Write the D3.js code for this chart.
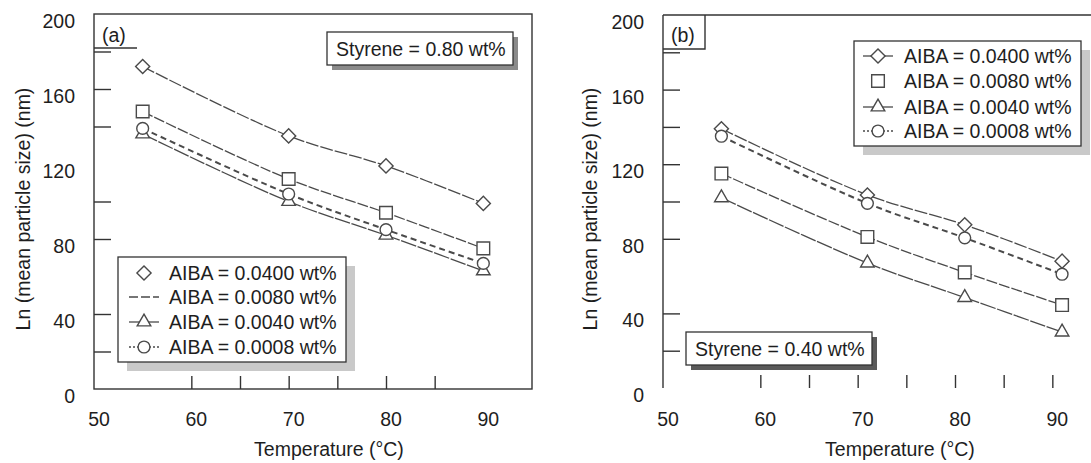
<!DOCTYPE html>
<html>
<head>
<meta charset="utf-8">
<script src="https://cdn.jsdelivr.net/npm/d3@7"></script>
<style>
  body { margin: 0; background: #fff; }
  text { font-family: "Liberation Sans", Arial, sans-serif; fill: #1e1e1e; }
</style>
</head>
<body>
<svg id="chart" width="1091" height="463"></svg>
<script>
// temperatures
const tempsA = [55, 70, 80, 90];
const tempsB = [56, 71, 81, 91];

// panel (a), styrene 0.80 wt%
const aiba0400A = [172, 135, 119, 99];
const aiba0080A = [148, 112, 94, 75];
const aiba0040A = [136, 100, 82, 63];
const aiba0008A = [139, 104, 85, 67];

// panel (b), styrene 0.40 wt%
const aiba0400B = [139, 103.5, 87.5, 68];
const aiba0080B = [115, 81, 62, 44.5];
const aiba0040B = [102, 67, 48.5, 30];
const aiba0008B = [135, 99, 80.5, 61];

const seriesNames = [
  "AIBA = 0.0400 wt%",
  "AIBA = 0.0080 wt%",
  "AIBA = 0.0040 wt%",
  "AIBA = 0.0008 wt%",
];
const xLabelValues = [50, 60, 70, 80, 90];
const xTickValuesA = [60, 65, 70, 75, 80, 85];
const xTickValuesB = [60, 65, 70, 75, 80, 85, 90];
const yLabelValues = [0, 40, 80, 120, 160, 200];
const yTickValuesA = [20, 40, 80, 100, 140, 160, 180];
const yTickValuesB = [20, 40, 80, 100, 120, 140, 160, 180];

(function drawFigure() {
  const svg = d3.select("#chart");
  const ink = "#333";
  const lineInk = "#4a4a4a";
  const fontSize = 19.5;

  const styles = [
    { marker: "diamond", dash: "13,2", width: 1.3 },
    { marker: "square", dash: "11,2", width: 1.3 },
    { marker: "triangle", dash: "16,1.5", width: 1.3 },
    { marker: "circle", dash: "6,4", width: 2 },
  ];

  function markerGen(kind) {
    if (kind === "diamond") return d3.symbol(d3.symbolSquare, 100)();
    if (kind === "square") return d3.symbol(d3.symbolSquare, 160)();
    if (kind === "triangle") return d3.symbol(d3.symbolTriangle, 80)();
    return d3.symbol(d3.symbolCircle, 110)();
  }

  function drawMarker(g, kind, x, y) {
    g.append("path")
      .attr("d", markerGen(kind))
      .attr("transform", `translate(${x},${y})` + (kind === "diamond" ? " rotate(45)" : ""))
      .attr("fill", "#fff")
      .attr("stroke", lineInk)
      .attr("stroke-width", 1.4);
  }

  function drawPanel(cfg) {
    const g = svg.append("g");
    const x = d3.scaleLinear().domain([50, 95]).range([cfg.left, cfg.left + 438]);
    const y = d3.scaleLinear().domain([0, 200]).range([cfg.bottom, cfg.top]);

    // frame
    if (cfg.fullFrame) {
      g.append("rect")
        .attr("x", x(50)).attr("y", y(200))
        .attr("width", x(95) - x(50)).attr("height", y(0) - y(200))
        .attr("fill", "none").attr("stroke", ink).attr("stroke-width", 1.4);
    } else {
      g.append("line")
        .attr("x1", x(50)).attr("x2", x(50)).attr("y1", y(200)).attr("y2", y(0))
        .attr("stroke", ink).attr("stroke-width", 1.4);
      g.append("line")
        .attr("x1", x(50)).attr("x2", 1091).attr("y1", y(200)).attr("y2", y(200))
        .attr("stroke", ink).attr("stroke-width", 1.4);
    }

    // inner ticks
    const yAxis = d3.axisRight(y).tickValues(cfg.yTicks).tickSize(17).tickFormat("").tickSizeOuter(0);
    g.append("g").attr("transform", `translate(${x(50)},0)`).call(yAxis)
      .call((s) => s.select(".domain").remove())
      .call((s) => s.selectAll("line").attr("stroke", ink).attr("stroke-width", 1.4));

    const xAxis = d3.axisTop(x).tickValues(cfg.xTicks).tickSize(13).tickFormat("").tickSizeOuter(0);
    g.append("g").attr("transform", `translate(0,${y(0)})`).call(xAxis)
      .call((s) => s.select(".domain").remove())
      .call((s) => s.selectAll("line").attr("stroke", ink).attr("stroke-width", 1.4));

    // tick labels
    g.selectAll(".ylab").data(yLabelValues).join("text")
      .attr("x", x(50) - 19).attr("y", (d) => y(d) + 14)
      .attr("text-anchor", "end").attr("font-size", fontSize).text((d) => d);
    g.selectAll(".xlab").data(xLabelValues).join("text")
      .attr("x", (d) => x(d) + 5).attr("y", 426)
      .attr("text-anchor", "middle").attr("font-size", fontSize).text((d) => d);

    // axis titles
    g.append("text")
      .attr("transform", `translate(${cfg.yTitleX},209) rotate(-90)`)
      .attr("text-anchor", "middle").attr("dy", "0.35em").attr("font-size", fontSize)
      .text("Ln (mean particle size) (nm)");
    g.append("text")
      .attr("x", cfg.xTitleX).attr("y", 456)
      .attr("text-anchor", "middle").attr("font-size", fontSize)
      .text("Temperature (°C)");

    // panel tag
    if (cfg.fullFrame) {
      g.append("line").attr("x1", x(50)).attr("x2", x(50) + 43).attr("y1", 48).attr("y2", 48)
        .attr("stroke", ink).attr("stroke-width", 1.4);
    } else {
      g.append("path")
        .attr("d", `M${x(50)},49H${x(50) + 42}V${y(200)}`)
        .attr("fill", "none").attr("stroke", ink).attr("stroke-width", 1.4);
    }
    g.append("text").attr("x", x(50) + 8).attr("y", 42).attr("font-size", fontSize).text(cfg.tag);

    // series
    const line = d3.line().curve(d3.curveCatmullRom.alpha(0.5)).x((d) => x(d[0])).y((d) => y(d[1]));
    cfg.series.forEach((vals, i) => {
      const pts = cfg.temps.map((t, k) => [t, vals[k]]);
      g.append("path").datum(pts).attr("d", line)
        .attr("fill", "none").attr("stroke", lineInk)
        .attr("stroke-width", styles[i].width).attr("stroke-dasharray", styles[i].dash);
    });
    cfg.series.forEach((vals, i) => {
      cfg.temps.forEach((t, k) => drawMarker(g, styles[i].marker, x(t), y(vals[k])));
    });

    // styrene box
    const sb = cfg.styBox;
    g.append("rect").attr("x", sb.x + 5).attr("y", sb.y + 5).attr("width", sb.w).attr("height", sb.h)
      .attr("fill", sb.shadow);
    g.append("rect").attr("x", sb.x).attr("y", sb.y).attr("width", sb.w).attr("height", sb.h)
      .attr("fill", "#fff").attr("stroke", ink).attr("stroke-width", 1.3);
    g.append("text").attr("x", sb.x + 9).attr("y", sb.y + sb.h / 2 + 7)
      .attr("font-size", fontSize).text(cfg.styrene);

    // legend
    const lb = cfg.legend;
    g.append("rect").attr("x", lb.x + 9).attr("y", lb.y + 9).attr("width", lb.w).attr("height", lb.h)
      .attr("fill", "#c9c9c9");
    g.append("rect").attr("x", lb.x).attr("y", lb.y).attr("width", lb.w).attr("height", lb.h)
      .attr("fill", "#fff").attr("stroke", ink).attr("stroke-width", 1.3);
    seriesNames.forEach((name, i) => {
      const ry = lb.rows[i];
      if (lb.lines[i]) {
        g.append("line").attr("x1", lb.symX - 15).attr("x2", lb.symX + 15)
          .attr("y1", ry).attr("y2", ry).attr("stroke", lineInk).attr("stroke-width", 1.3)
          .attr("stroke-dasharray", lb.lines[i]);
      }
      if (lb.marks[i]) drawMarker(g, styles[i].marker, lb.symX, ry);
      g.append("text").attr("x", lb.textX).attr("y", ry + 7).attr("font-size", fontSize).text(name);
    });
  }

  drawPanel({
    tag: "(a)",
    left: 94, top: 14, bottom: 389, fullFrame: true,
    xTicks: xTickValuesA, yTicks: yTickValuesA,
    yTitleX: 23, xTitleX: 329,
    temps: tempsA,
    series: [aiba0400A, aiba0080A, aiba0040A, aiba0008A],
    styrene: "Styrene = 0.80 wt%",
    styBox: { x: 327, y: 32, w: 186, h: 33, shadow: "#8a8a8a" },
    legend: {
      x: 118, y: 257, w: 228, h: 105,
      rows: [273, 297, 322, 347], symX: 144, textX: 169,
      lines: [null, "9,3", "none", "2,2"], marks: [true, false, true, true],
    },
  });

  drawPanel({
    tag: "(b)",
    left: 663, top: 15, bottom: 388, fullFrame: false,
    xTicks: xTickValuesB, yTicks: yTickValuesB,
    yTitleX: 590, xTitleX: 900,
    temps: tempsB,
    series: [aiba0400B, aiba0080B, aiba0040B, aiba0008B],
    styrene: "Styrene = 0.40 wt%",
    styBox: { x: 686, y: 332, w: 186, h: 33, shadow: "#5a5a5a" },
    legend: {
      x: 854, y: 41, w: 227, h: 105,
      rows: [56, 81, 107, 131], symX: 878, textX: 904,
      lines: ["none", null, "none", "2,2"], marks: [true, true, true, true],
    },
  });
})();
</script>
</body>
</html>
